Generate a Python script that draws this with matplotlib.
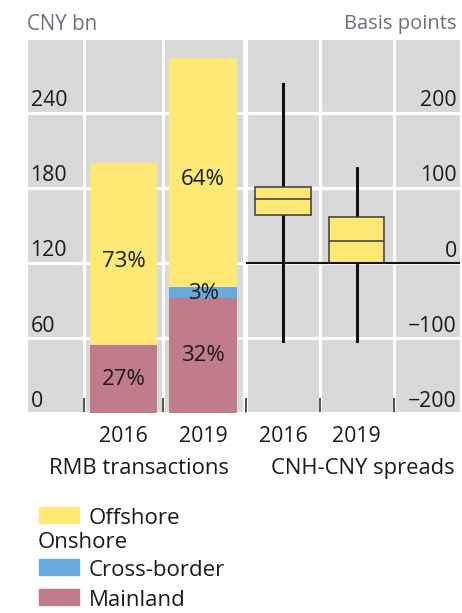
import matplotlib.pyplot as plt
from matplotlib.patches import Rectangle
from matplotlib.transforms import blended_transform_factory

plt.rcParams['font.family'] = ['Open Sans', 'DejaVu Sans']

# data
years = ['2016', '2019']
mainland = [54, 92]
cross_border = [0, 9]
offshore = [146, 183]
pct_mainland = ['27%', '32%']
pct_cross = ['', '3%']
pct_offshore = ['73%', '64%']

left_ticks = [0, 60, 120, 180, 240]
right_ticks = [-200, -100, 0, 100, 200]

spread_lo = [-104, -104]
spread_q1 = [64, 0]
spread_med = [85, 29]
spread_q3 = [101, 61]
spread_hi = [239, 127]

legend_labels = ['Offshore', 'Cross-border', 'Mainland']

yellow = '#FFE873'
blue = '#67ABDE'
mauve = '#C17C8C'
bg = '#D9D9D9'
txt = '#1A1A1A'
fs = 15.3

W, H = 462, 613
fig = plt.figure(figsize=(W / 100, H / 100), dpi=100)


def px_axes(x0, x1, y0, y1):
    return fig.add_axes([x0 / W, 1 - y1 / H, (x1 - x0) / W, (y1 - y0) / H])


ax1 = px_axes(28, 243, 40, 413)
ax2 = px_axes(246, 460, 40, 413)

for ax in (ax1, ax2):
    ax.set_facecolor(bg)
    for s in ax.spines.values():
        s.set_visible(False)
    ax.set_axisbelow(True)

# ---- left panel: stacked bars
x = [0, 1]
ax1.set_xlim(-1.2, 1.5)
ax1.set_ylim(0, 298)
ax1.bar(x, mainland, width=0.85, color=mauve)
ax1.bar(x, cross_border, width=0.85, bottom=mainland, color=blue)
base = [m + c for m, c in zip(mainland, cross_border)]
ax1.bar(x, offshore, width=0.85, bottom=base, color=yellow)

for i in x:
    ax1.text(i, mainland[i] / 2, pct_mainland[i], ha='center', va='center', fontsize=16, color=txt)
    if pct_cross[i]:
        ax1.text(i, mainland[i] + cross_border[i] / 2 - 1, pct_cross[i], ha='center', va='center',
                 fontsize=16, color=txt)
    ax1.text(i, base[i] + offshore[i] / 2 - 6, pct_offshore[i], ha='center', va='center',
             fontsize=16, color=txt)

ax1.set_yticks(left_ticks)
ax1.set_xticks([-0.5, 0.5], minor=True)
ax1.grid(True, which='major', axis='y', color='white', lw=2.2)
ax1.grid(True, which='minor', axis='x', color='white', lw=2.2)
ax1.tick_params(axis='y', length=0, labelleft=False)
tr1 = blended_transform_factory(ax1.transAxes, ax1.transData)
for t in left_ticks:
    ax1.annotate(str(t), (0.012, t), xycoords=tr1, xytext=(0, 1), textcoords='offset points',
                 ha='left', va='bottom', fontsize=fs, color=txt)

ax1.set_xticks(x)
ax1.set_xticklabels(years, fontsize=fs, color=txt)
ax1.tick_params(axis='x', which='major', length=0, pad=9)
ax1.tick_params(axis='x', which='minor', direction='in', length=11, width=1.3, color='#444444')
ax1.set_xlabel('RMB transactions', fontsize=fs + 0.5, color=txt)
ax1.xaxis.set_label_coords(0.515, -0.12)

# ---- right panel: box plot
ax2.set_xlim(-0.5, 2.4)
ax2.set_ylim(-200, 297)
stats = [dict(med=spread_med[i], q1=spread_q1[i], q3=spread_q3[i],
              whislo=spread_lo[i], whishi=spread_hi[i], label=years[i]) for i in range(2)]
bp = ax2.bxp(stats, positions=x, widths=0.75, showfliers=False, patch_artist=True,
             boxprops=dict(facecolor=yellow, edgecolor='#3A3A3A', linewidth=1.1),
             medianprops=dict(color='#3A3A3A', linewidth=1.1),
             whiskerprops=dict(color='#111111', linewidth=2.2),
             capprops=dict(linewidth=0))
for w in bp['whiskers']:
    w.set_zorder(2.5)
for b in bp['boxes']:
    b.set_zorder(3)
for m in bp['medians']:
    m.set_zorder(3.5)
ax2.axhline(0, color='#111111', lw=1.5, zorder=4)

ax2.set_yticks(right_ticks)
ax2.set_xticks([0.5, 1.5], minor=True)
ax2.grid(True, which='major', axis='y', color='white', lw=2.2)
ax2.grid(True, which='minor', axis='x', color='white', lw=2.2)
ax2.tick_params(axis='y', length=0, labelleft=False)
tr2 = blended_transform_factory(ax2.transAxes, ax2.transData)
for t in right_ticks:
    lab = str(t).replace('-', '\u2212')
    ax2.annotate(lab, (0.985, t), xycoords=tr2, xytext=(0, 1), textcoords='offset points',
                 ha='right', va='bottom', fontsize=fs, color=txt)

ax2.set_xticks(x)
ax2.set_xticklabels(years, fontsize=fs, color=txt)
ax2.set_xticks([-0.5, 0.5, 1.5], minor=True)
ax2.tick_params(axis='x', which='major', length=0, pad=9)
ax2.tick_params(axis='x', which='minor', direction='in', length=11, width=1.3, color='#444444')
ax2.set_xlabel('CNH-CNY spreads', fontsize=fs + 0.5, color=txt)
ax2.xaxis.set_label_coords(0.545, -0.12)

# unit labels
fig.text(27 / W, 1 - 24 / H, 'CNY bn', ha='left', va='center', fontsize=14.8, color='#6E7079')
fig.text(457 / W, 1 - 24 / H, 'Basis points', ha='right', va='center', fontsize=14.5, color='#6E7079')

# legend
rows = [(515, yellow, legend_labels[0]), (567, blue, legend_labels[1]), (597, mauve, legend_labels[2])]
for yc, col, lab in rows:
    fig.add_artist(Rectangle((39 / W, 1 - (yc + 8) / H), 40 / W, 16 / H,
                             transform=fig.transFigure, color=col))
    fig.text(89 / W, 1 - (yc + 3) / H, lab, ha='left', va='center', fontsize=16, color=txt)
fig.text(38 / W, 1 - 543 / H, 'Onshore', ha='left', va='center', fontsize=16, color=txt)

fig.savefig('out.png', dpi=100)
